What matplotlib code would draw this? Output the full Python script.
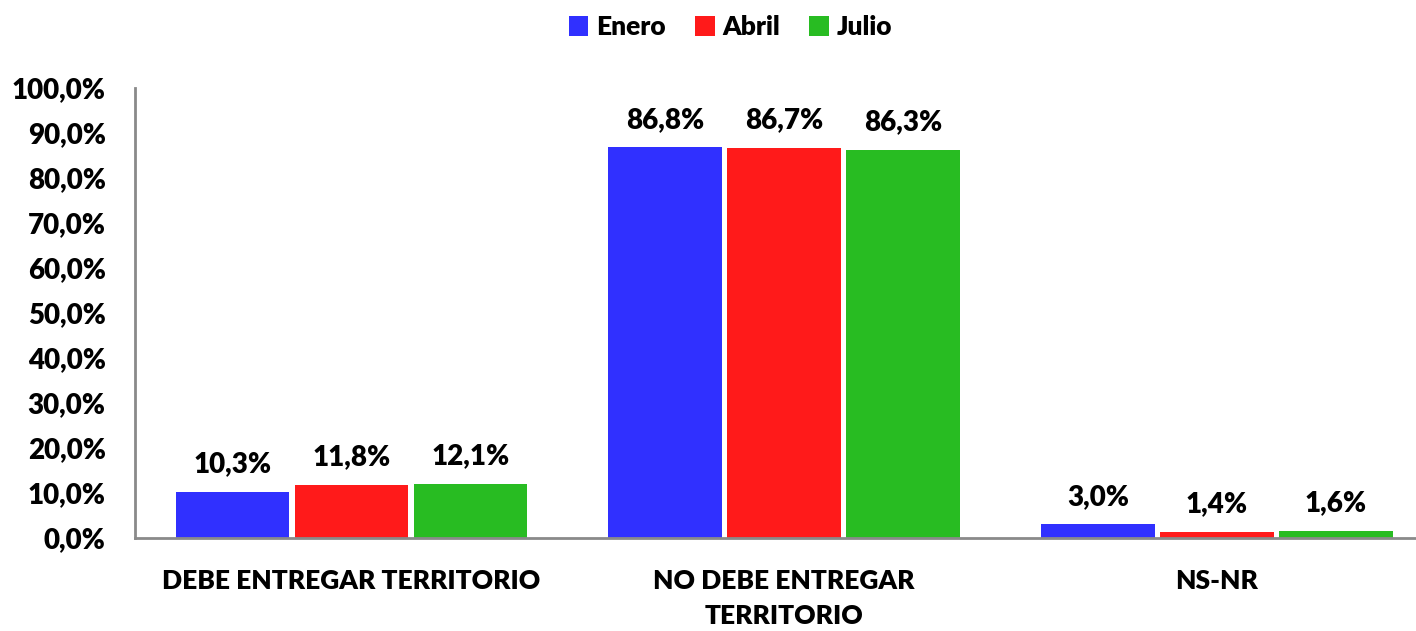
import numpy as np
import matplotlib.pyplot as plt

# === DATA ===
categories = ['DEBE ENTREGAR TERRITORIO', 'NO DEBE ENTREGAR\nTERRITORIO', 'NS-NR']
series_names = ['Enero', 'Abril', 'Julio']
enero = [10.3, 86.8, 3.0]
abril = [11.8, 86.7, 1.4]
julio = [12.1, 86.3, 1.6]
colors = ['#3030FF', '#FF1A1A', '#28BC22']

plt.rcParams['font.family'] = ['Lato', 'DejaVu Sans']
plt.rcParams['font.weight'] = 'heavy'
W = 'heavy'

fig = plt.figure(figsize=(14.16, 6.31), dpi=100)
ax = fig.add_axes([0.0953, 0.1474, 0.9047, 0.7131])

x = np.arange(len(categories))
width = 0.262
offset = 0.275
for i, (name, vals) in enumerate(zip(series_names, [enero, abril, julio])):
    pos = x + (i - 1) * offset
    bars = ax.bar(pos, vals, width, color=colors[i], label=name, zorder=2)
    for b, v in zip(bars, vals):
        ax.text(b.get_x() + b.get_width() / 2, v + 3.2,
                f'{v:.1f}%'.replace('.', ','),
                ha='center', va='bottom', fontsize=20, fontweight=W)

ax.set_xlim(-0.5, 2.46)
ax.set_ylim(0, 100)
ax.set_yticks(np.arange(0, 101, 10))
ax.set_yticklabels([f'{t:.1f}%'.replace('.', ',') for t in np.arange(0, 101, 10)],
                   fontsize=20, fontweight=W)
ax.set_xticks(x)
ax.set_xticklabels(categories, fontsize=19, fontweight=W, linespacing=1.55)
ax.tick_params(axis='y', length=0, pad=21)
ax.tick_params(axis='x', length=0, pad=22)

for s in ['top', 'right']:
    ax.spines[s].set_visible(False)
for s in ['left', 'bottom']:
    ax.spines[s].set_color('#8a8a8a')
    ax.spines[s].set_linewidth(2)

fig.legend(loc='center', bbox_to_anchor=(0.516, 0.957), ncol=3, frameon=False,
           handlelength=0.75, handleheight=0.75, handletextpad=0.3,
           columnspacing=1.1, prop={'weight': W, 'size': 19})

fig.savefig('out.png', dpi=100)
